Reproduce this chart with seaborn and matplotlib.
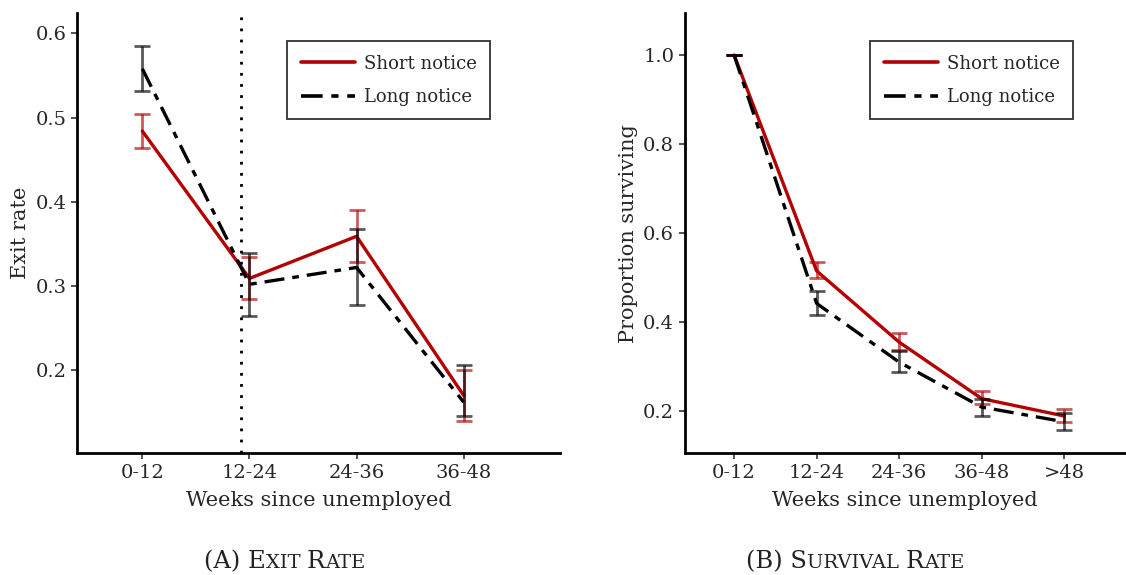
import numpy as np
import pandas as pd
import matplotlib
matplotlib.use("Agg")
import matplotlib.pyplot as plt
import seaborn as sns
from matplotlib.offsetbox import TextArea, HPacker, AnchoredOffsetbox

# ---- data ----
exit_cats = ["0-12", "12-24", "24-36", "36-48"]
exit_short = [0.484, 0.309, 0.359, 0.170]
exit_short_lo = [0.464, 0.284, 0.328, 0.140]
exit_short_hi = [0.504, 0.334, 0.390, 0.200]
exit_long = [0.558, 0.302, 0.322, 0.162]
exit_long_lo = [0.532, 0.264, 0.277, 0.145]
exit_long_hi = [0.585, 0.339, 0.368, 0.206]

surv_cats = ["0-12", "12-24", "24-36", "36-48", ">48"]
surv_short = [1.0, 0.515, 0.355, 0.228, 0.189]
surv_short_lo = [1.0, 0.500, 0.338, 0.215, 0.175]
surv_short_hi = [1.0, 0.535, 0.375, 0.245, 0.205]
surv_long = [1.0, 0.442, 0.310, 0.209, 0.176]
surv_long_lo = [1.0, 0.415, 0.287, 0.190, 0.158]
surv_long_hi = [1.0, 0.470, 0.335, 0.228, 0.195]

series_names = ["Short notice", "Long notice"]

sns.set_theme(style="ticks")
plt.rcParams['font.family'] = ['DejaVu Serif']
plt.rcParams['mathtext.fontset'] = 'dejavuserif'

RED = "#B30000"
fig = plt.figure(figsize=(11.26, 5.75), dpi=100)
axA = fig.add_axes([0.0684, 0.212, 0.429, 0.765])
axB = fig.add_axes([0.608, 0.212, 0.392, 0.765])

FS_LAB = 15
FS_TICK = 14
FS_LEG = 13

def panel(ax, cats, s, slo, shi, l, llo, lhi):
    x = np.arange(len(cats))
    df = pd.DataFrame({
        "x": np.concatenate([x, x]),
        "y": np.concatenate([s, l]),
        "series": [series_names[0]] * len(x) + [series_names[1]] * len(x),
    })
    sns.lineplot(data=df, x="x", y="y", hue="series", style="series",
                 palette={series_names[0]: RED, series_names[1]: "black"},
                 dashes={series_names[0]: "", series_names[1]: (6, 2.4, 2, 2.4)},
                 linewidth=2.4, ax=ax, legend=True)
    s = np.array(s); l = np.array(l)
    ax.errorbar(x, s, yerr=[s - np.array(slo), np.array(shi) - s], fmt="none",
                ecolor=RED, alpha=0.65, elinewidth=2.0, capsize=6, capthick=2.0, zorder=3)
    ax.errorbar(x, l, yerr=[l - np.array(llo), np.array(lhi) - l], fmt="none",
                ecolor="black", alpha=0.65, elinewidth=2.0, capsize=6, capthick=2.0, zorder=3)
    ax.set_xticks(x)
    ax.set_xticklabels(cats)
    ax.set_xlabel("Weeks since unemployed", fontsize=FS_LAB, labelpad=7)
    ax.tick_params(axis="both", labelsize=FS_TICK, length=4, width=1.2, color="#333333")
    for sp in ["top", "right"]:
        ax.spines[sp].set_visible(False)
    for sp in ["left", "bottom"]:
        ax.spines[sp].set_linewidth(2.0)
        ax.spines[sp].set_color("black")
    leg = ax.legend(loc="upper left", fontsize=FS_LEG, borderaxespad=0,
                    frameon=True, fancybox=False, edgecolor="black", handlelength=3.0,
                    borderpad=0.75, labelspacing=0.85, handletextpad=0.5)
    leg.get_frame().set_linewidth(1.3)
    for h in leg.get_lines():
        h.set_linewidth(2.6)
    return x

xa = panel(axA, exit_cats, exit_short, exit_short_lo, exit_short_hi,
           exit_long, exit_long_lo, exit_long_hi)
axA.axvline(0.92, color="black", linestyle=(0, (1, 3)), linewidth=2.0, zorder=1)
axA.set_xlim(-0.61, 3.9)
axA.set_ylim(0.1015, 0.624)
axA.set_yticks([0.2, 0.3, 0.4, 0.5, 0.6])
axA.set_ylabel("Exit rate", fontsize=FS_LAB)
axA.legend_.set_bbox_to_anchor((287 / 1126, 1 - 41 / 575), transform=fig.transFigure)

xb = panel(axB, surv_cats, surv_short, surv_short_lo, surv_short_hi,
           surv_long, surv_long_lo, surv_long_hi)
axB.set_xlim(-0.6, 4.75)
axB.set_ylim(0.1056, 1.094)
axB.set_yticks([0.2, 0.4, 0.6, 0.8, 1.0])
axB.set_yticklabels(["0.2", "0.4", "0.6", "0.8", "1.0"])
axB.set_ylabel("Proportion surviving", fontsize=FS_LAB)
axB.legend_.set_bbox_to_anchor((870 / 1126, 1 - 41 / 575), transform=fig.transFigure)

# small-caps captions
def caption(parts, xc):
    areas = [TextArea(t, textprops=dict(fontsize=f, color="#222222", family="DejaVu Serif"))
             for t, f in parts]
    box = HPacker(children=areas, align="baseline", pad=0, sep=0)
    ab = AnchoredOffsetbox(loc="center", child=box, frameon=False,
                           bbox_to_anchor=(xc, 1 - 562 / 575), bbox_transform=fig.transFigure,
                           borderpad=0, pad=0)
    fig.add_artist(ab)

caption([("(A) E", 17.5), ("XIT ", 14), ("R", 17.5), ("ATE", 14)], 285 / 1126)
caption([("(B) S", 17.5), ("URVIVAL ", 14), ("R", 17.5), ("ATE", 14)], 855 / 1126)

fig.savefig("out.png", dpi=100)
